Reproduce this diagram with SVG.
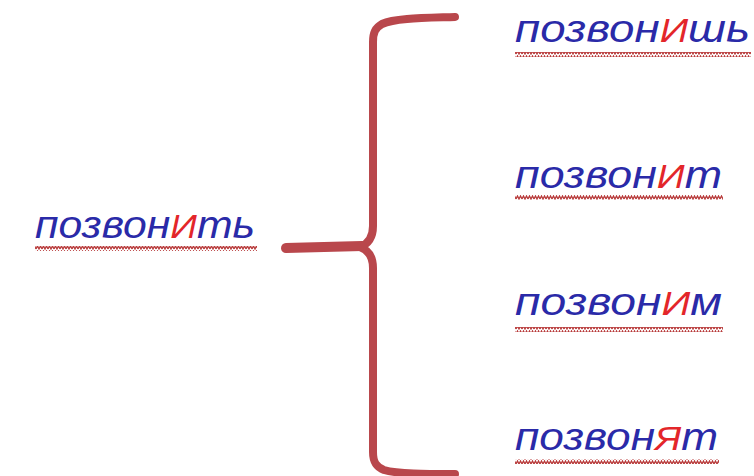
<svg xmlns="http://www.w3.org/2000/svg" width="754" height="476" viewBox="0 0 754 476">
<style>
.w{font-family:"Liberation Sans",Arial,sans-serif;font-style:italic;font-size:38px;fill:#2a2aa8}
.r{fill:#e3262a;font-size:33px}
.br{fill:none;stroke:#b9474c;stroke-width:8;stroke-linecap:round;stroke-linejoin:round}
</style>
<defs>
<pattern id="sq" width="6" height="5" patternUnits="userSpaceOnUse">
<polyline points="0,4 1.5,1 3,4 4.5,1 6,4" fill="none" stroke="#b83a3a" stroke-width="1.3"/>
</pattern>
</defs>
<rect width="754" height="476" fill="#ffffff"/>
<g id="connectors">
<path class="br" d="M455,17 C425,18 395,18 382,24 C375,28 373,33 373,42 L373,226 C373,238 368,244 360,247 C368,250 373,256 373,268 L373,452 C373,462 376,467 384,470 C398,474 425,474 455,474"/>
<path d="M286,248 L362,246" fill="none" stroke="#b9474c" stroke-width="10" stroke-linecap="round"/>
</g>
<g id="n0">
<text class="w" x="35" y="238" textLength="220" lengthAdjust="spacingAndGlyphs">позвон<tspan class="r">И</tspan>ть</text>
<rect x="35" y="246" width="222" height="5" fill="url(#sq)"/>
</g>
<g id="n1">
<text class="w" x="515" y="42" textLength="235" lengthAdjust="spacingAndGlyphs">позвон<tspan class="r">И</tspan>шь</text>
<rect x="515" y="52" width="236" height="5" fill="url(#sq)"/>
</g>
<g id="n2">
<text class="w" x="515" y="188" textLength="207" lengthAdjust="spacingAndGlyphs">позвон<tspan class="r">И</tspan>т</text>
<rect x="515" y="195" width="208" height="5" fill="url(#sq)"/>
</g>
<g id="n3">
<text class="w" x="515" y="315" textLength="207" lengthAdjust="spacingAndGlyphs">позвон<tspan class="r">И</tspan>м</text>
<rect x="515" y="327" width="208" height="5" fill="url(#sq)"/>
</g>
<g id="n4">
<text class="w" x="515" y="450" textLength="203" lengthAdjust="spacingAndGlyphs">позвон<tspan class="r">Я</tspan>т</text>
<rect x="515" y="459" width="204" height="5" fill="url(#sq)"/>
</g>
</svg>
